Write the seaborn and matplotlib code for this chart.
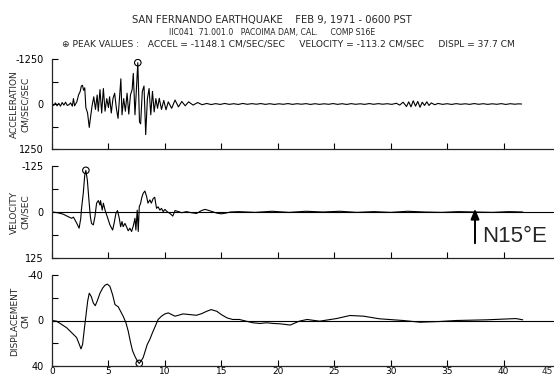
import matplotlib
matplotlib.use("Agg")
import matplotlib.pyplot as plt
import matplotlib.transforms as mtransforms
import numpy as np
import pandas as pd
import seaborn as sns

# ---------------- data ----------------
accel_time = [0.0, 0.15, 0.3, 0.45, 0.6, 0.75, 0.9, 1.05, 1.2, 1.35, 1.5, 1.65, 1.8, 1.9, 2.0,
              2.2, 2.35, 2.5, 2.6, 2.7, 2.8, 2.9, 3.0, 3.15, 3.3, 3.4, 3.55, 3.7, 3.85, 4.0,
              4.1, 4.25, 4.4, 4.55, 4.7, 4.85, 5.0, 5.1, 5.25, 5.4, 5.55, 5.7, 5.85, 6.0,
              6.1, 6.2, 6.35, 6.5, 6.65, 6.8, 6.95, 7.1, 7.2, 7.35, 7.45, 7.6, 7.75, 7.85,
              8.0, 8.15, 8.3, 8.45, 8.6, 8.75, 8.9, 9.05, 9.2, 9.35, 9.5, 9.7, 9.9, 10.1,
              10.3, 10.6, 10.9, 11.2, 11.5, 11.8, 12.1, 12.5, 12.9, 13.3, 13.7, 14.1, 14.5,
              14.9, 15.3, 15.7, 16.1, 16.5, 16.9, 17.3, 17.7, 18.1, 18.5, 18.9, 19.3, 19.7,
              20.1, 20.5, 20.9, 21.3, 21.7, 22.1, 22.5, 22.9, 23.3, 23.7, 24.1, 24.5, 24.9,
              25.3, 25.7, 26.1, 26.5, 26.9, 27.3, 27.7, 28.1, 28.5, 28.9, 29.3, 29.7, 30.1,
              30.5, 30.8, 31.1, 31.4, 31.6, 31.8, 32.0, 32.2, 32.4, 32.6, 32.8, 33.0, 33.2,
              33.4, 33.6, 33.9, 34.2, 34.6, 35.0, 35.4, 35.8, 36.2, 36.6, 37.0, 37.4, 37.8,
              38.2, 38.6, 39.0, 39.4, 39.8, 40.2, 40.6, 41.0, 41.3, 41.6]
accel_value = [0, 40, -30, 50, -20, 60, -40, 30, -50, 40, 20, -30, 60, -150, 50,
               -60, -250, -350, -500, -520, -380, -450, 100, 250, 650, 400, 50, -200, 150, -250,
               200, -400, 250, -430, 200, -150, 100, -200, 250, -150, -300, 120, 400, -250,
               -700, 300, -150, 200, -300, 280, -250, -400, -850, 300, -250, -1148, 500, 550,
               -350, -500, 850, -150, -430, 300, -350, 220, -150, 120, -160, 150, -100, 160,
               -60, 120, -110, 80, -70, 50, -60, 30, -40, 20, -15, 15, -10,
               12, -15, 10, -8, 12, -15, 8, -10, 6, -12, 10, -8, 12,
               -6, 8, -12, 10, -8, 6, -10, 12, -8, 10, -6, 8, -12,
               10, -8, 12, -10, 8, -6, 10, -12, 8, -10, 6, -8, 10,
               -20, 30, -50, 70, -60, 80, -90, 60, -70, 90, -50, 40, -60,
               40, -30, 20, -15, 10, -8, 12, -10, 8, -6, 10, -12, 8,
               -8, 10, -6, 8, -10, 12, -8, 6, -4, 0]

vel_time = [0.0, 0.5, 1.0, 1.45, 1.74, 1.9, 2.2, 2.4, 2.55, 2.6, 2.77, 2.9, 3.0, 3.13, 3.27,
            3.4, 3.5, 3.66, 3.8, 3.95, 4.1, 4.25, 4.3, 4.45, 4.55, 4.7, 4.9, 5.13, 5.37,
            5.5, 5.66, 5.8, 5.96, 6.08, 6.2, 6.3, 6.46, 6.6, 6.75, 6.9, 7.05, 7.2, 7.35,
            7.43, 7.55, 7.64, 7.73, 7.85, 7.96, 8.08, 8.23, 8.38, 8.5, 8.67, 8.8, 8.97,
            9.1, 9.26, 9.4, 9.56, 9.7, 9.85, 10.0, 10.2, 10.45, 10.7, 10.9, 11.2, 11.5,
            11.9, 12.35, 12.8, 13.25, 13.55, 13.8, 14.2, 14.6, 15.0, 15.4, 15.8, 16.5,
            18.0, 19.5, 21.0, 22.5, 24.0, 25.5, 27.0, 28.5, 30.0, 31.5, 33.0, 34.5, 36.0,
            37.5, 39.0, 40.5, 41.7]
vel_value = [0, 2, 6, 13, 17, 14, 31, 44, 17, -5, -51, -100, -113, -87, -33,
             13, 31, 35, 13, -24, -31, -19, -31, -5, -24, -5, 13, 35, 49,
             31, 4, -4, 17, 40, 26, 40, 31, 40, 51, 44, 53, 38, 17,
             49, -5, 53, -14, -24, -40, -51, -57, -42, -24, -33, -24, -37,
             -40, -10, -14, -5, -10, -1, -7, -1, 4, 11, -4, -1, 2,
             -1, 2, 4, -4, -7, -5, -1, 3, 5, 3, 0, -1,
             1, -2, 1, -2, 0, -2, 1, -1, 1, -2, 0, 1, -1,
             0, 1, -1, 0]

disp_time = [0.0, 0.4, 0.86, 1.3, 1.74, 2.18, 2.42, 2.57, 2.71, 2.86, 3.0, 3.16, 3.3, 3.48,
             3.66, 3.83, 4.0, 4.25, 4.48, 4.69, 4.9, 5.13, 5.37, 5.58, 5.87, 6.08, 6.3,
             6.55, 6.75, 6.96, 7.14, 7.35, 7.55, 7.73, 7.9, 8.08, 8.26, 8.44, 8.67, 8.9,
             9.15, 9.4, 9.7, 10.0, 10.3, 10.6, 10.9, 11.2, 11.6, 12.2, 12.8, 13.25, 13.7,
             14.1, 14.6, 15.0, 15.5, 16.0, 16.6, 17.2, 17.8, 18.4, 19.0, 19.6, 20.2, 21.1,
             21.9, 22.6, 23.7, 25.2, 26.4, 27.6, 29.0, 31.1, 32.6, 34.3, 35.8, 38.5, 41.1,
             41.7]
disp_value = [0, 0.6, 3.5, 6.4, 10.7, 15, 21, 25, 21, 7.8, -3.8, -17, -24, -21,
              -15.4, -13, -17, -24, -28.4, -31, -32, -30, -22.6, -14, -12, -8, -3.8,
              2, 9.3, 19.4, 26.7, 31.6, 35.4, 37.7, 35.4, 32.5, 26.7, 21, 16.5, 10.7,
              5, -0.9, -3.8, -5.8, -6.7, -5.2, -3.8, -4.6, -5.8, -5.2, -4.6, -6, -8.1,
              -9.6, -8.1, -5.2, -2.3, -0.9, -0.9, 0.6, 2, 2.6, 2, 2.6, 2.9, 4,
              0.6, -0.9, 0.6, -1.7, -4.4, -3.8, -1.5, 0, 1.5, 0.9, 0, -0.6, -1.7,
              -0.6]

peak_time = [7.6, 3.0, 7.73]
peak_value = [-1148.1, -113.2, 37.7]
panel_limits = [1250, 125, 40]
panel_labels = ["ACCELERATION\nCM/SEC/SEC", "VELOCITY\nCM/SEC", "DISPLACEMENT\nCM"]
x_ticks = [0, 5, 10, 15, 20, 25, 30, 35, 40, 45]

# ---------------- style ----------------
sns.set_style("ticks")
plt.rcParams["font.family"] = ["DejaVu Sans"]
plt.rcParams["axes.linewidth"] = 0.9

W, H = 554, 377
fig = plt.figure(figsize=(W / 100, H / 100), dpi=100)

panel_pix = [(59, 149), (166, 258), (275, 366)]
series = [(accel_time, accel_value), (vel_time, vel_value), (disp_time, disp_value)]
label_y = [104, 212, 321]

for i in range(3):
    top, bottom = panel_pix[i]
    ax = fig.add_axes([52 / W, 1 - bottom / H, 508 / W, (bottom - top) / H])
    t, v = series[i]
    df = pd.DataFrame({"t": t, "v": v})
    if i > 0:
        ax.axhline(0, color="black", lw=0.8, zorder=1)
    sns.lineplot(data=df, x="t", y="v", ax=ax, color="black", lw=0.8,
                 estimator=None, sort=False, zorder=2)
    pk = pd.DataFrame({"t": [peak_time[i]], "v": [peak_value[i]]})
    sns.scatterplot(data=pk, x="t", y="v", ax=ax, marker="o", s=22,
                    facecolor="none", edgecolor="black", linewidth=0.8, zorder=3)
    lim = panel_limits[i]
    ax.set_xlim(0, 45)
    ax.set_ylim(lim, -lim)
    ax.set_yticks([-lim, -lim / 2, 0, lim / 2, lim])
    ax.set_yticklabels([f"-{lim}", "", "0", "", f"{lim}"])
    ax.set_xticks(x_ticks)
    ax.tick_params(direction="in", length=4, width=0.8, labelsize=7, pad=6, colors="black")
    ax.tick_params(axis="x", pad=1, labelsize=6.5)
    if i < 2:
        ax.set_xticklabels([])
    else:
        # the last tick (45) sits just past the figure edge: its label is drawn
        # right-aligned against the edge so it stays visible
        ax.set_xticklabels([str(x) for x in x_ticks[:-1]] + [""])
        trans = mtransforms.blended_transform_factory(fig.transFigure, ax.transAxes)
        trans = trans + mtransforms.ScaledTranslation(0, -1.0 / 72, fig.dpi_scale_trans)
        ax.text(553 / W, 0, str(x_ticks[-1]), transform=trans, ha="right", va="top",
                fontsize=6.5, clip_on=False)
    ax.set_xlabel("")
    ax.set_ylabel("")
    sns.despine(ax=ax, top=True, right=True)
    fig.text(20 / W, 1 - label_y[i] / H, panel_labels[i], rotation=90, ha="center",
             va="center", multialignment="center", fontsize=6.5, linespacing=1.3)

# ---------------- header text ----------------
fig.text(272 / W, 1 - 20 / H, "SAN FERNANDO EARTHQUAKE    FEB 9, 1971 - 0600 PST",
         ha="center", va="center", fontsize=7.2)
fig.text(272 / W, 1 - 32 / H, "IIC041  71.001.0   PACOIMA DAM, CAL.     COMP S16E",
         ha="center", va="center", fontsize=5.6)
fig.text(288 / W, 1 - 44 / H,
         "\u2295 PEAK VALUES :   ACCEL = -1148.1 CM/SEC/SEC     VELOCITY = -113.2 CM/SEC     DISPL = 37.7 CM",
         ha="center", va="center", fontsize=6.6)

# ---------------- direction annotation ----------------
fig.patches.append(matplotlib.patches.FancyArrowPatch(
    (475 / W, 1 - 246 / H), (475 / W, 1 - 206 / H), transform=fig.transFigure,
    arrowstyle="-|>,head_length=6,head_width=2.5", color="black", lw=1.4, figure=fig))
fig.text(482 / W, 1 - 236 / H, "N15\u00b0E", ha="left", va="center", fontsize=16,
         family=["Liberation Sans", "DejaVu Sans"])

fig.savefig("out.png", dpi=100)
